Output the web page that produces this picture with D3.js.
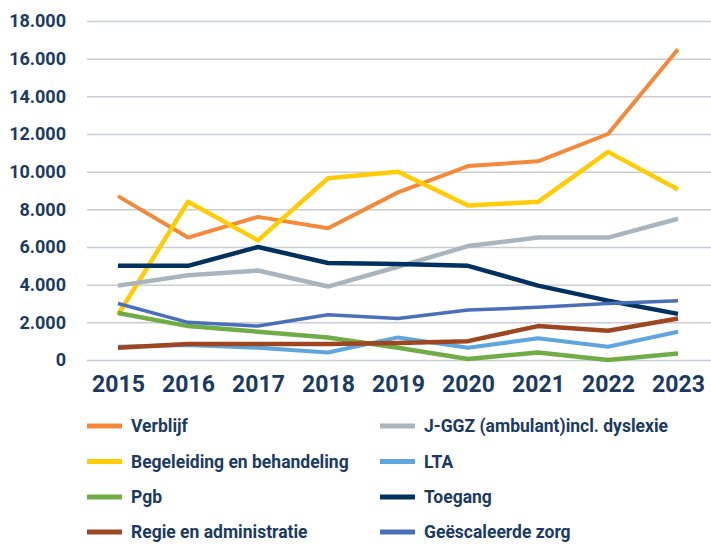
<!DOCTYPE html>
<html>
<head>
<meta charset="utf-8">
<script src="https://cdn.jsdelivr.net/npm/d3@7"></script>
<style>
  body { margin: 0; background: #fff; }
  svg { display: block; font-family: Roboto, "DejaVu Sans Condensed", sans-serif; font-weight: 700; }
</style>
</head>
<body>
<div id="chart"></div>
<script>
// data
const years = ["2015", "2016", "2017", "2018", "2019", "2020", "2021", "2022", "2023"];
const yTicks = [0, 2000, 4000, 6000, 8000, 10000, 12000, 14000, 16000, 18000];

const verblijf    = [8700, 6500, 7600, 7000, 8900, 10300, 10550, 12000, 16500];
const begeleiding = [2400, 8400, 6350, 9650, 10000, 8200, 8400, 11050, 9050];
const jggz        = [3950, 4500, 4750, 3900, 4950, 6050, 6500, 6500, 7500];
const lta         = [700, 800, 650, 400, 1200, 650, 1150, 700, 1500];
const pgb         = [2500, 1800, 1500, 1200, 650, 50, 400, 0, 350];
const regie       = [650, 850, 850, 850, 900, 1000, 1800, 1550, 2200];
const toegang     = [5000, 5000, 6000, 5150, 5100, 5000, 3950, 3150, 2450];
const geescaleerd = [3000, 2000, 1800, 2400, 2200, 2650, 2800, 3000, 3150];

const seriesNames = ["Verblijf", "Begeleiding en behandeling", "J-GGZ (ambulant)incl. dyslexie", "LTA",
    "Pgb", "Regie en administratie", "Toegang", "Geëscaleerde zorg"];
const seriesValues = [verblijf, begeleiding, jggz, lta, pgb, regie, toegang, geescaleerd];

// legend order: two columns
const legendLeft = ["Verblijf", "Begeleiding en behandeling", "Pgb", "Regie en administratie"];
const legendRight = ["J-GGZ (ambulant)incl. dyslexie", "LTA", "Toegang", "Geëscaleerde zorg"];

const colors = {
    "Verblijf": "#f5893a",
    "Begeleiding en behandeling": "#ffcc05",
    "J-GGZ (ambulant)incl. dyslexie": "#aab4bd",
    "LTA": "#5ea6dd",
    "Pgb": "#70ad47",
    "Regie en administratie": "#9e4620",
    "Toegang": "#00315f",
    "Geëscaleerde zorg": "#4a6fb9"
};
const widths = {
    "Verblijf": 4,
    "Begeleiding en behandeling": 4.5,
    "J-GGZ (ambulant)incl. dyslexie": 4.5,
    "LTA": 4,
    "Pgb": 4.5,
    "Regie en administratie": 4.5,
    "Toegang": 4.5,
    "Geëscaleerde zorg": 3.5
};

const width = 711, height = 544;
const textColor = "#1b3a62";

const svg = d3.select("#chart").append("svg")
    .attr("width", width)
    .attr("height", height);

const xScale = d3.scalePoint()
    .domain(years)
    .range([118, 678]);

const yScale = d3.scaleLinear()
    .domain([0, 18000])
    .range([360, 21]);

const nl = d3.formatLocale({ decimal: ",", thousands: ".", grouping: [3], currency: ["€ ", ""] });

// y axis + gridlines
const yAxis = svg.append("g")
    .attr("transform", "translate(87,0)")
    .call(d3.axisLeft(yScale)
        .tickValues(yTicks)
        .tickSize(-(width - 87))
        .tickPadding(21)
        .tickFormat(nl.format(",d")));
yAxis.select(".domain").remove();
yAxis.selectAll(".tick line")
    .attr("stroke", "#c9ced4")
    .attr("stroke-width", 1.5);
yAxis.selectAll(".tick text")
    .attr("fill", textColor)
    .style("font-size", "18px")
    .style("font-weight", 700)
    .style("font-family", "Roboto, sans-serif");

// x axis
const xAxis = svg.append("g")
    .attr("transform", "translate(0,360)")
    .call(d3.axisBottom(xScale).tickSize(0).tickPadding(16));
xAxis.select(".domain").remove();
xAxis.selectAll(".tick text")
    .attr("fill", textColor)
    .style("font-size", "23px")
    .style("font-weight", 700)
    .style("font-family", "Roboto, sans-serif");

// lines
const line = d3.line()
    .x((d, i) => xScale(years[i]))
    .y(d => yScale(d));

seriesNames.forEach((name, k) => {
    svg.append("path")
        .datum(seriesValues[k])
        .attr("fill", "none")
        .attr("stroke", colors[name])
        .attr("stroke-width", widths[name])
        .attr("stroke-linejoin", "round")
        .attr("d", line);
});

// legend (last row sits right at the bottom edge, like the original)
const legendRows = [426, 461.5, 497, 532];
function drawLegend(names, x0) {
    const g = svg.append("g").attr("transform", "translate(" + x0 + ",0)");
    names.forEach((name, i) => {
        g.append("line")
            .attr("x1", 0).attr("x2", 35)
            .attr("y1", legendRows[i]).attr("y2", legendRows[i])
            .attr("stroke", colors[name])
            .attr("stroke-width", 5);
        g.append("text")
            .attr("x", 44)
            .attr("y", legendRows[i])
            .attr("dy", "0.35em")
            .attr("fill", textColor)
            .style("font-size", "17.5px")
            .text(name);
    });
}
drawLegend(legendLeft, 87);
drawLegend(legendRight, 380);
</script>
</body>
</html>
